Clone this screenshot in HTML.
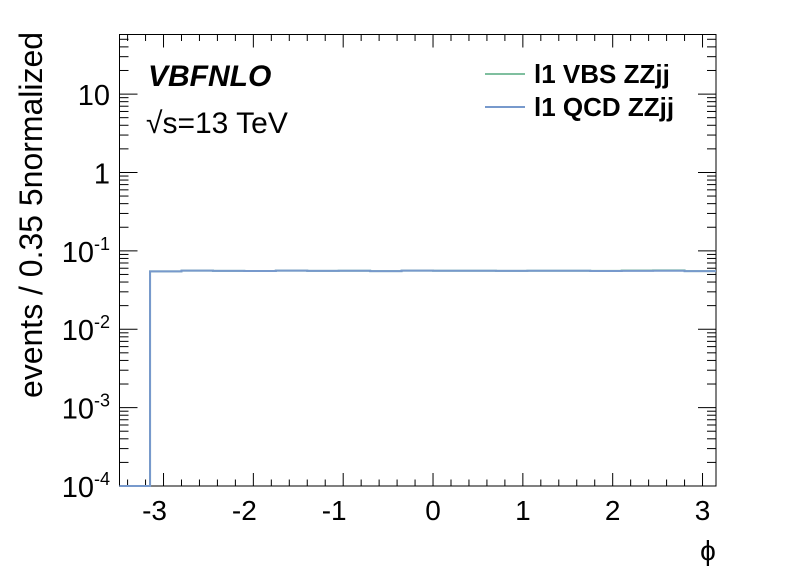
<!DOCTYPE html>
<html><head><meta charset="utf-8"><style>
html,body{margin:0;padding:0;background:#fff;}
svg text{font-family:"Liberation Sans",sans-serif;}
</style></head><body>
<svg id="chart" width="796" height="572" xmlns="http://www.w3.org/2000/svg">
<rect width="796" height="572" fill="#fff"/>
<g id="axes"></g>
<g id="series"></g>
<text x="148" y="86" font-size="30" font-weight="bold" font-style="italic">VBFNLO</text>
<text x="146" y="133" font-size="30">√s=13 TeV</text>
<g>
<line x1="485" y1="74" x2="525" y2="74" stroke="#7fbf9f" stroke-width="2"/>
<text x="534" y="83" font-size="26" font-weight="bold">l1 VBS ZZjj</text>
<line x1="485" y1="107" x2="525" y2="107" stroke="#7799cc" stroke-width="2"/>
<text x="534" y="116" font-size="26" font-weight="bold">l1 QCD ZZjj</text>
</g>
<text transform="translate(42,398) rotate(-90)" font-size="32" textLength="366" lengthAdjust="spacingAndGlyphs">events / 0.35 5normalized</text>
<text x="708" y="560" font-size="28" text-anchor="middle">ϕ</text>
</svg>
<script>
const binEdgesStart = -3.5;
const binWidth = 0.35;
const vbsValues = [0.0001,0.0548,0.0560,0.0556,0.0554,0.0559,0.0556,0.0557,0.0552,0.0560,0.0558,0.0557,0.0556,0.0558,0.0557,0.0555,0.0562,0.0564,0.0552];
const qcdValues = [0.0001,0.0548,0.0560,0.0556,0.0554,0.0559,0.0556,0.0557,0.0552,0.0560,0.0558,0.0557,0.0556,0.0558,0.0557,0.0553,0.0555,0.0557,0.0552];
const xTickValues = [-3,-2,-1,0,1,2,3];
const yTickExps = [-4,-3,-2,-1,0,1];
const yTickLabels = ["10<tspan font-size='18' dy='-12'>-4</tspan>","10<tspan font-size='18' dy='-12'>-3</tspan>","10<tspan font-size='18' dy='-12'>-2</tspan>","10<tspan font-size='18' dy='-12'>-1</tspan>","1","10"];

const L=119.5,R=716,T=34.5,B=486;
const xMin=-3.49,xMax=3.15,yMinLog=-4,yMaxLog=1.76;
const sx=v=>L+(v-xMin)/(xMax-xMin)*(R-L);
const sy=v=>B-(Math.log10(v)-yMinLog)/(yMaxLog-yMinLog)*(B-T);
const NS="http://www.w3.org/2000/svg";
const axes=document.getElementById('axes');
function mk(tag,attrs,parent){const e=document.createElementNS(NS,tag);for(const k in attrs)e.setAttribute(k,attrs[k]);parent.appendChild(e);return e;}

const frame=mk('rect',{x:L,y:T,width:R-L,height:B-T,fill:'none',stroke:'#000','stroke-width':1},axes);



for(let v=-3.4;v<=3.15;v+=0.2){
  const r=Math.round(v*10)/10;const major=Math.abs(r-Math.round(r))<1e-6;
  const len=major?13:6.5;const x=sx(r);
  const t1=mk('line',{x1:x,y1:B,x2:x,y2:B-len,stroke:'#000'},axes);
  
  
  const t2=mk('line',{x1:x,y1:T,x2:x,y2:T+len,stroke:'#000'},axes);
  
  
}
xTickValues.forEach(v=>{
  const t=mk('text',{x:sx(v)-(v<0?9:0),y:B+34,'font-size':28,'text-anchor':'middle'},axes);
  t.textContent=v;
  
  
});
for(let e=-4;e<=1;e++){
  for(let m=1;m<=9;m++){
    const val=m*Math.pow(10,e);if(Math.log10(val)>yMaxLog)break;
    const y=sy(val);const len=m===1?18:9;
    const a=mk('line',{x1:L,y1:y,x2:L+len,y2:y,stroke:'#000'},axes);
    
    
    const b=mk('line',{x1:R,y1:y,x2:R-len,y2:y,stroke:'#000'},axes);
    
    
  }
}
yTickExps.forEach((e,i)=>{
  const t=mk('text',{x:110,y:sy(Math.pow(10,e))+11,'font-size':29,'text-anchor':'end'},axes);
  t.innerHTML=yTickLabels[i];
  
  
});
const sg=document.getElementById('series');
function stepPath(vals){
  let d='';
  vals.forEach((v,i)=>{
    const x0=sx(binEdgesStart+i*binWidth),x1=sx(binEdgesStart+(i+1)*binWidth),y=sy(v);
    d+=(i===0?'M':'L')+Math.max(x0,L)+','+y+'L'+Math.min(x1,R)+','+y;
  });
  return d;
}
const pv=mk('path',{d:stepPath(vbsValues),fill:'none',stroke:'#7fbf9f','stroke-width':2},sg);


const pq=mk('path',{d:stepPath(qcdValues),fill:'none',stroke:'#7799cc','stroke-width':2},sg);


</script>
</body></html>
